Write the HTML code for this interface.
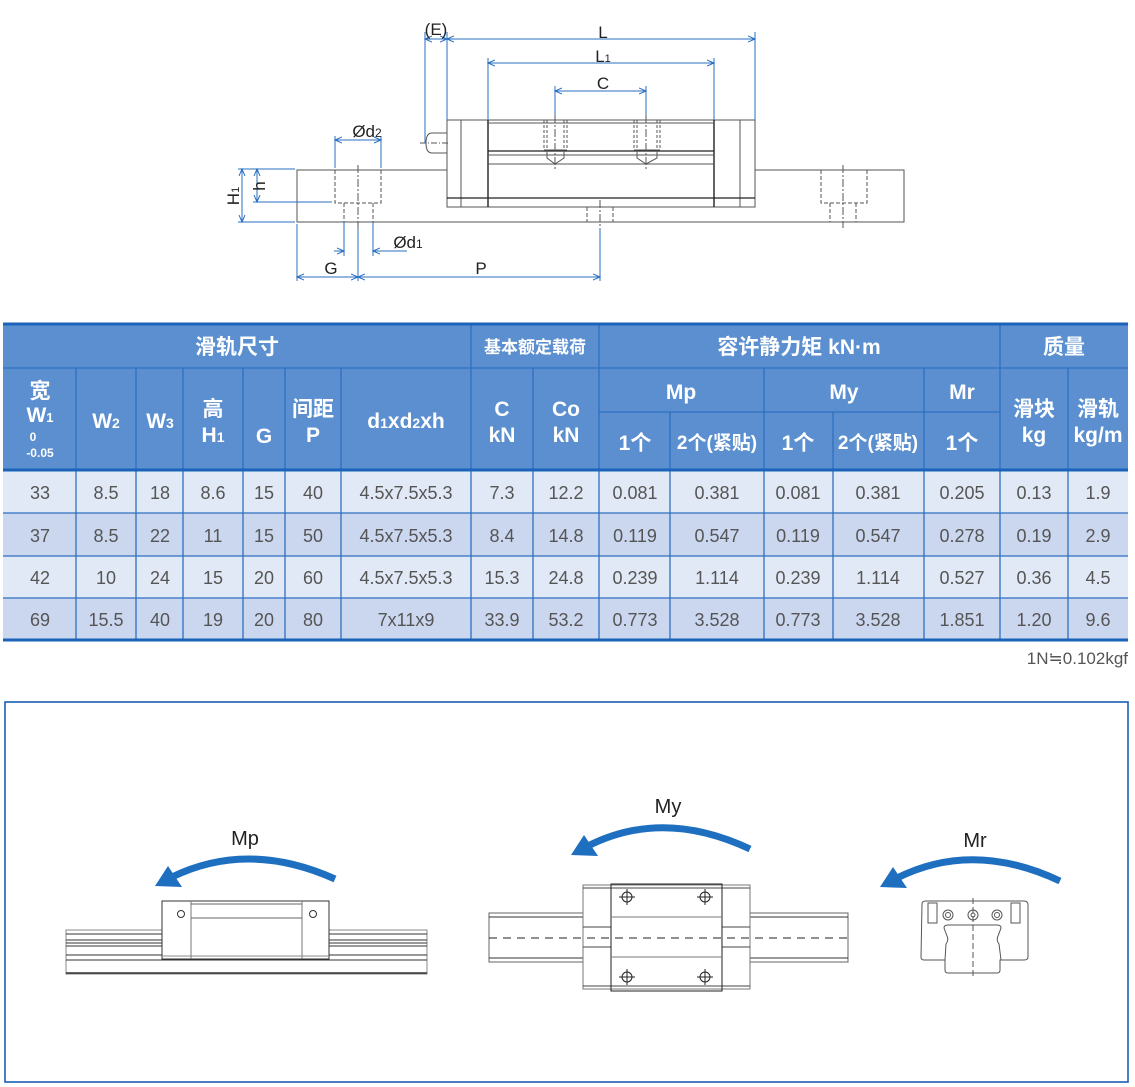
<!DOCTYPE html>
<html><head><meta charset="utf-8"><style>
html,body{margin:0;padding:0;background:#fff;}
svg{display:block;}
.h{font-family:"Liberation Sans","Noto Sans CJK SC",sans-serif;fill:#fff;font-weight:bold;text-anchor:middle;}
.d{font-family:"Liberation Sans Narrow","Liberation Sans",sans-serif;fill:#555;font-size:18px;text-anchor:middle;}
.t{font-family:"Liberation Sans",sans-serif;fill:#222;text-anchor:middle;}
</style></head><body>
<svg width="1135" height="1087" viewBox="0 0 1135 1087" xmlns="http://www.w3.org/2000/svg">
<defs>
<marker id="ar" markerWidth="8" markerHeight="8" refX="7" refY="4" orient="auto" markerUnits="userSpaceOnUse"><path d="M0,1 L7,4 L0,7" fill="none" stroke="#2a6fc2" stroke-width="1"/></marker>
<marker id="al" markerWidth="8" markerHeight="8" refX="1" refY="4" orient="auto" markerUnits="userSpaceOnUse"><path d="M8,1 L1,4 L8,7" fill="none" stroke="#2a6fc2" stroke-width="1"/></marker>
</defs>

<!-- ===== Top drawing ===== -->
<g fill="none" stroke="#555" stroke-width="1">
  <!-- rail -->
  <path d="M447,170 H297 V222 H904 V170 H755"/>
  <!-- block -->
  <rect x="447" y="120" width="308" height="87"/>
  <line x1="461" y1="120" x2="461" y2="207"/>
  <line x1="740" y1="120" x2="740" y2="207"/>
  <line x1="488" y1="120" x2="488" y2="207" stroke="#222" stroke-width="1.4"/>
  <line x1="714" y1="120" x2="714" y2="207" stroke="#222" stroke-width="1.4"/>
  <line x1="447" y1="198" x2="755" y2="198" stroke="#222" stroke-width="1.2"/>
  <line x1="488" y1="123" x2="714" y2="123"/>
  <line x1="488" y1="151" x2="714" y2="151" stroke="#222" stroke-width="1.2"/>
  <line x1="488" y1="164" x2="714" y2="164"/>
  <line x1="488" y1="155" x2="714" y2="155"/>
  <!-- grease nipple -->
  <path d="M447,133 H432 Q426,133 426,143 Q426,153 432,153 H447"/>
  <line x1="420" y1="143" x2="450" y2="143" stroke-dasharray="6,2,1,2"/>
  <!-- bolt holes -->
  <g stroke-dasharray="3,2">
    <path d="M544,120 V150 M567,120 V150 M547,120 V150 M564,120 V150 M637,120 V150 M660,120 V150 M634,120 V150 M657,120 V150"/>
  </g>
  <path d="M544,150 H567 M547,150 V158 L555,164 L564,158 V150 M634,150 H660 M637,150 V158 L646,164 L657,158 V150"/>
  <path d="M555,115 V170 M646,115 V170" stroke-dasharray="8,2,2,2"/>
  <!-- rail holes -->
  <g stroke-dasharray="4,2">
    <path d="M335,170 V203 H381 V170 M344,203 V222 M373,203 V222"/>
    <path d="M821,170 V203 H867 V170 M830,203 V222 M856,203 V222"/>
    <path d="M587,207 V222 M613,207 V222"/>
  </g>
  <path d="M358,165 V228 M843,165 V228 M600,200 V228" stroke-dasharray="8,2,2,2"/>
</g>
<!-- dimensions -->
<g fill="none" stroke="#2a6fc2" stroke-width="1">
  <line x1="447" y1="32" x2="447" y2="120"/>
  <line x1="755" y1="32" x2="755" y2="120"/>
  <line x1="425" y1="32" x2="425" y2="143"/>
  <line x1="447" y1="39" x2="755" y2="39" marker-start="url(#al)" marker-end="url(#ar)"/>
  <line x1="425" y1="39" x2="447" y2="39" marker-start="url(#al)" marker-end="url(#ar)"/>
  <line x1="488" y1="58" x2="488" y2="120"/>
  <line x1="714" y1="58" x2="714" y2="120"/>
  <line x1="488" y1="63" x2="714" y2="63" marker-start="url(#al)" marker-end="url(#ar)"/>
  <line x1="555" y1="86" x2="555" y2="115"/>
  <line x1="646" y1="86" x2="646" y2="115"/>
  <line x1="555" y1="91" x2="646" y2="91" marker-start="url(#al)" marker-end="url(#ar)"/>
  <line x1="335" y1="136" x2="335" y2="168"/>
  <line x1="381" y1="136" x2="381" y2="168"/>
  <line x1="335" y1="140" x2="381" y2="140" marker-start="url(#al)" marker-end="url(#ar)"/>
  <line x1="238" y1="169" x2="295" y2="169"/>
  <line x1="238" y1="222" x2="295" y2="222"/>
  <line x1="242" y1="169" x2="242" y2="222" marker-start="url(#al)" marker-end="url(#ar)"/>
  <line x1="253" y1="202" x2="332" y2="202"/>
  <line x1="257" y1="169" x2="257" y2="202" marker-start="url(#al)" marker-end="url(#ar)"/>
  <line x1="344" y1="222" x2="344" y2="256"/>
  <line x1="373" y1="222" x2="373" y2="256"/>
  <line x1="334" y1="251" x2="344" y2="251" marker-end="url(#ar)"/>
  <line x1="373" y1="251" x2="407" y2="251" marker-start="url(#al)"/>
  <line x1="297" y1="224" x2="297" y2="281"/>
  <line x1="358" y1="228" x2="358" y2="281"/>
  <line x1="600" y1="228" x2="600" y2="281"/>
  <line x1="297" y1="277" x2="358" y2="277" marker-start="url(#al)" marker-end="url(#ar)"/>
  <line x1="358" y1="277" x2="600" y2="277" marker-start="url(#al)" marker-end="url(#ar)"/>
</g>
<g class="t" font-size="17">
  <text x="436" y="35">(E)</text>
  <text x="603" y="38">L</text>
  <text x="603" y="62">L<tspan font-size="11">1</tspan></text>
  <text x="603" y="89">C</text>
  <text x="367" y="137">Ød<tspan font-size="12">2</tspan></text>
  <text x="408" y="248">Ød<tspan font-size="12">1</tspan></text>
  <text x="331" y="274">G</text>
  <text x="481" y="274">P</text>
  <text transform="translate(239,196) rotate(-90)">H<tspan font-size="11">1</tspan></text>
  <text transform="translate(265,186) rotate(-90)">h</text>
</g>

<!-- ===== Table ===== -->
<rect x="3" y="324" width="1125" height="146" fill="#5b8fcf"/>
<rect x="3" y="470" width="1125" height="43" fill="#e2e9f6"/>
<rect x="3" y="513" width="1125" height="43" fill="#cad7ef"/>
<rect x="3" y="556" width="1125" height="42" fill="#e2e9f6"/>
<rect x="3" y="598" width="1125" height="42" fill="#cad7ef"/>
<g stroke="#2f6fc0" stroke-width="1.3" fill="none">
  <path d="M3,368 H1128 M599,412 H1000 M3,513 H1128 M3,556 H1128 M3,598 H1128"/>
  <path d="M76,368 V640 M136,368 V640 M183,368 V640 M243,368 V640 M285,368 V640 M341,368 V640 M471,324 V640 M533,368 V640 M599,324 V640 M670,412 V640 M764,368 V640 M833,412 V640 M924,368 V640 M1000,324 V640 M1068,368 V640"/>
</g>
<g stroke="#1a63b8" stroke-width="3">
  <line x1="3" y1="324" x2="1128" y2="324"/>
  <line x1="3" y1="470" x2="1128" y2="470"/>
  <line x1="3" y1="640" x2="1128" y2="640"/>
</g>
<g class="h" font-size="21">
  <text x="237" y="354">滑轨尺寸</text>
  <text x="535" y="353" font-size="17">基本额定载荷</text>
  <text x="799" y="354">容许静力矩 kN·m</text>
  <text x="1064" y="354">质量</text>
  <text x="40" y="398">宽</text>
  <text x="40" y="422">W<tspan font-size="13">1</tspan></text>
  <text x="33" y="441" font-size="12">0</text>
  <text x="40" y="457" font-size="12">-0.05</text>
  <text x="106" y="428">W<tspan font-size="14">2</tspan></text>
  <text x="160" y="428">W<tspan font-size="14">3</tspan></text>
  <text x="213" y="416">高</text>
  <text x="213" y="442">H<tspan font-size="14">1</tspan></text>
  <text x="264" y="443">G</text>
  <text x="313" y="416">间距</text>
  <text x="313" y="442">P</text>
  <text x="406" y="428">d<tspan font-size="14">1</tspan>xd<tspan font-size="14">2</tspan>xh</text>
  <text x="502" y="416">C</text>
  <text x="502" y="442">kN</text>
  <text x="566" y="416">Co</text>
  <text x="566" y="442">kN</text>
  <text x="681" y="399">Mp</text>
  <text x="844" y="399">My</text>
  <text x="962" y="399">Mr</text>
  <text x="635" y="450">1个</text>
  <text x="717" y="449" font-size="19">2个(紧贴)</text>
  <text x="798" y="450">1个</text>
  <text x="878" y="449" font-size="19">2个(紧贴)</text>
  <text x="962" y="450">1个</text>
  <text x="1034" y="416">滑块</text>
  <text x="1034" y="442">kg</text>
  <text x="1098" y="416">滑轨</text>
  <text x="1098" y="442">kg/m</text>
</g>
<g class="d">
  <text x="40" y="499">33</text><text x="106" y="499">8.5</text><text x="160" y="499">18</text><text x="213" y="499">8.6</text><text x="264" y="499">15</text><text x="313" y="499">40</text><text x="406" y="499">4.5x7.5x5.3</text><text x="502" y="499">7.3</text><text x="566" y="499">12.2</text><text x="635" y="499">0.081</text><text x="717" y="499">0.381</text><text x="798" y="499">0.081</text><text x="878" y="499">0.381</text><text x="962" y="499">0.205</text><text x="1034" y="499">0.13</text><text x="1098" y="499">1.9</text>
  <text x="40" y="542">37</text><text x="106" y="542">8.5</text><text x="160" y="542">22</text><text x="213" y="542">11</text><text x="264" y="542">15</text><text x="313" y="542">50</text><text x="406" y="542">4.5x7.5x5.3</text><text x="502" y="542">8.4</text><text x="566" y="542">14.8</text><text x="635" y="542">0.119</text><text x="717" y="542">0.547</text><text x="798" y="542">0.119</text><text x="878" y="542">0.547</text><text x="962" y="542">0.278</text><text x="1034" y="542">0.19</text><text x="1098" y="542">2.9</text>
  <text x="40" y="584">42</text><text x="106" y="584">10</text><text x="160" y="584">24</text><text x="213" y="584">15</text><text x="264" y="584">20</text><text x="313" y="584">60</text><text x="406" y="584">4.5x7.5x5.3</text><text x="502" y="584">15.3</text><text x="566" y="584">24.8</text><text x="635" y="584">0.239</text><text x="717" y="584">1.114</text><text x="798" y="584">0.239</text><text x="878" y="584">1.114</text><text x="962" y="584">0.527</text><text x="1034" y="584">0.36</text><text x="1098" y="584">4.5</text>
  <text x="40" y="626">69</text><text x="106" y="626">15.5</text><text x="160" y="626">40</text><text x="213" y="626">19</text><text x="264" y="626">20</text><text x="313" y="626">80</text><text x="406" y="626">7x11x9</text><text x="502" y="626">33.9</text><text x="566" y="626">53.2</text><text x="635" y="626">0.773</text><text x="717" y="626">3.528</text><text x="798" y="626">0.773</text><text x="878" y="626">3.528</text><text x="962" y="626">1.851</text><text x="1034" y="626">1.20</text><text x="1098" y="626">9.6</text>
</g>
<text x="1128" y="664" font-family="Liberation Sans Narrow, Liberation Sans, sans-serif" font-size="17" fill="#555" text-anchor="end">1N≒0.102kgf</text>

<!-- ===== Bottom box ===== -->
<rect x="5" y="702" width="1123" height="380" fill="none" stroke="#1a5fb4" stroke-width="1.6"/>

<!-- arrows -->
<g fill="none" stroke="#1e6fc0" stroke-width="7">
  <path d="M335,879 Q248,840 172,877"/>
  <path d="M750,849 Q663,808 588,846"/>
  <path d="M1060,881 Q973,840 897,878"/>
</g>
<g fill="#1e6fc0">
  <polygon points="155,886 168,866 182,887"/>
  <polygon points="571,855 584,835 598,856"/>
  <polygon points="880,887 893,867 907,888"/>
</g>
<g class="t" font-size="20">
  <text x="245" y="845">Mp</text>
  <text x="668" y="813">My</text>
  <text x="975" y="847">Mr</text>
</g>

<!-- Mp figure -->
<g fill="none" stroke="#333" stroke-width="1">
  <rect x="66" y="930" width="361" height="44" stroke="#888"/>
  <path d="M66,934 H427 M66,940 H427 M66,943 H427 M66,946 H427 M66,955 H427 M66,960 H427"/>
  <line x1="66" y1="973" x2="427" y2="973" stroke-width="1.5"/>
  <rect x="162" y="901" width="167" height="58" fill="#fff"/>
  <path d="M191,901 V959 M302,901 V959" stroke="#777"/>
  <path d="M191,904 H302 M191,918 H302" stroke="#666"/>
  <path d="M162,956 H329" stroke="#888"/>
  <circle cx="181" cy="914" r="3.5"/>
  <circle cx="313" cy="914" r="3.5"/>
</g>

<!-- My figure -->
<g fill="none" stroke="#333" stroke-width="1">
  <rect x="489" y="913" width="359" height="49" stroke="#666"/>
  <path d="M489,917 H848 M489,958 H848"/>
  <rect x="583" y="885" width="167" height="104" fill="#fff" stroke="#777"/>
  <path d="M583,888 H750 M583,927 H611 M722,927 H750 M583,947 H611 M722,947 H750 M583,986 H750" stroke="#444"/>
  <rect x="611" y="884" width="111" height="107" stroke="#222"/>
  <path d="M611,917 H722 M611,957 H722" stroke="#777"/>
  <line x1="489" y1="938" x2="848" y2="938" stroke="#222" stroke-dasharray="8,6"/>
  <g stroke="#222">
    <circle cx="627" cy="897" r="5"/><path d="M619,897 H635 M627,889 V905"/>
    <circle cx="705" cy="897" r="5"/><path d="M697,897 H713 M705,889 V905"/>
    <circle cx="627" cy="977" r="5"/><path d="M619,977 H635 M627,969 V985"/>
    <circle cx="705" cy="977" r="5"/><path d="M697,977 H713 M705,969 V985"/>
  </g>
</g>

<!-- Mr figure -->
<g fill="none" stroke="#555" stroke-width="1">
  <path d="M922,904 Q922,901 926,901 H1024 Q1028,901 1028,905 V957 Q1028,960 1024,960 H1000 V970 Q1000,973 997,973 H948 Q945,973 945,970 V960 H924 Q921,960 921,957 Z"/>
  <path d="M944,928 Q944,925 948,925 H997 Q1001,925 1001,928 L998,936 Q996,940 999,944 L1001,960 M944,928 L947,936 Q949,940 946,944 L945,960"/>
  <line x1="973" y1="898" x2="973" y2="976" stroke-dasharray="6,3"/>
  <rect x="928" y="903" width="9" height="20"/>
  <rect x="1011" y="903" width="9" height="20"/>
  <circle cx="948" cy="915" r="5"/><circle cx="948" cy="915" r="2.5"/>
  <circle cx="973" cy="915" r="5"/><circle cx="973" cy="915" r="2"/>
  <circle cx="997" cy="915" r="5"/><circle cx="997" cy="915" r="2.5"/>
</g>
</svg>
</body></html>
